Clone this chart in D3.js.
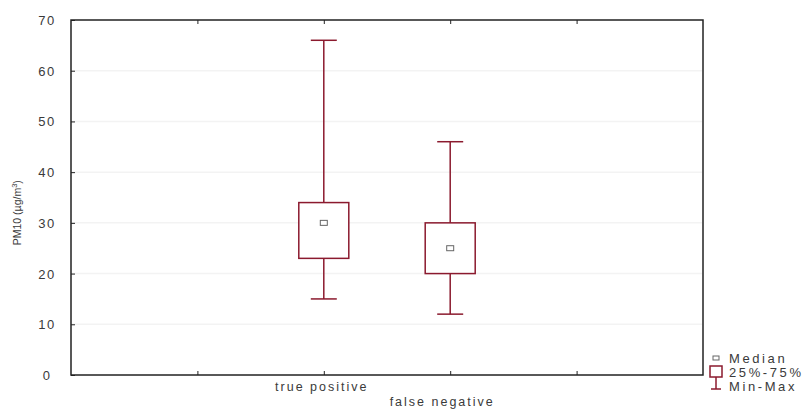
<!DOCTYPE html>
<html>
<head>
<meta charset="utf-8">
<script src="https://cdn.jsdelivr.net/npm/d3@7"></script>
<style>
  body { margin: 0; background: #fff; }
  text { font-family: "Liberation Sans", Arial, sans-serif; fill: #3a3a3a; }
</style>
</head>
<body>
<div id="chart"></div>
<script>
var categories = ["true positive", "false negative"];
var minVals = [15, 12];
var q1Vals = [23, 20];
var medianVals = [30, 25];
var q3Vals = [34, 30];
var maxVals = [66, 46];
var yTicks = [0, 10, 20, 30, 40, 50, 60, 70];
var legendLabels = ["Median", "25%-75%", "Min-Max"];

var W = 810, H = 409;
var margin = {top: 20, right: 107, bottom: 34, left: 71};
var width = W - margin.left - margin.right,
    height = H - margin.top - margin.bottom;
var red = "#8b1a2e";

var svg = d3.select("#chart").append("svg")
    .attr("width", W)
    .attr("height", H);
var g = svg.append("g")
    .attr("transform", "translate(" + margin.left + "," + margin.top + ")");

// padded point scale: two blank slots either side like the original
var xs = d3.scalePoint()
    .domain(["_a"].concat(categories).concat(["_b"]))
    .range([0, width])
    .padding(1);
var ys = d3.scaleLinear()
    .domain([0, 70])
    .range([height, 0]);

// faint grid
g.selectAll(".grid").data(yTicks.slice(1, -1)).enter().append("line")
    .attr("x1", 1).attr("x2", width - 1)
    .attr("y1", function(d) { return ys(d); })
    .attr("y2", function(d) { return ys(d); })
    .attr("stroke", "#f3f3f3").attr("stroke-width", 1.5);

// axes (ticks pointing inward)
var yAxis = g.append("g").call(d3.axisLeft(ys).tickValues(yTicks).tickSize(-4).tickPadding(24));
yAxis.select(".domain").remove();
yAxis.selectAll("text").attr("font-size", 13).attr("letter-spacing", 1.5)
    .attr("text-anchor", "middle").attr("dy", "0.35em");
yAxis.selectAll("line").attr("stroke", "#222");

var xAxis = g.append("g")
    .attr("transform", "translate(0," + height + ")")
    .call(d3.axisBottom(xs).tickSize(-4).tickFormat(""));
xAxis.select(".domain").remove();
xAxis.selectAll("line").attr("stroke", "#222");

var topAxis = g.append("g")
    .call(d3.axisTop(xs).tickSize(-4).tickFormat(""));
topAxis.select(".domain").remove();
topAxis.selectAll("line").attr("stroke", "#222");

g.selectAll(".xlab").data(categories).enter().append("text")
    .attr("x", function(d, i) { return xs(d) - 2 - i * 6; })
    .attr("y", function(d, i) { return height + 16 + i * 15; })
    .attr("text-anchor", "middle")
    .attr("font-size", 12.5)
    .attr("letter-spacing", 2)
    .text(function(d) { return d; });

// frame
g.append("rect")
    .attr("width", width).attr("height", height)
    .attr("fill", "none").attr("stroke", "#222").attr("stroke-width", 1.5);

// boxes
var boxW = 50, capW = 26;
var box = g.selectAll(".box").data(categories).enter().append("g");
box.append("line")
    .attr("x1", function(d) { return xs(d); })
    .attr("x2", function(d) { return xs(d); })
    .attr("y1", function(d, i) { return ys(maxVals[i]); })
    .attr("y2", function(d, i) { return ys(minVals[i]); })
    .attr("stroke", red).attr("stroke-width", 1.5);
box.append("line")
    .attr("x1", function(d) { return xs(d) - capW / 2; })
    .attr("x2", function(d) { return xs(d) + capW / 2; })
    .attr("y1", function(d, i) { return ys(maxVals[i]); })
    .attr("y2", function(d, i) { return ys(maxVals[i]); })
    .attr("stroke", red).attr("stroke-width", 1.5);
box.append("line")
    .attr("x1", function(d) { return xs(d) - capW / 2; })
    .attr("x2", function(d) { return xs(d) + capW / 2; })
    .attr("y1", function(d, i) { return ys(minVals[i]); })
    .attr("y2", function(d, i) { return ys(minVals[i]); })
    .attr("stroke", red).attr("stroke-width", 1.5);
box.append("rect")
    .attr("x", function(d) { return xs(d) - boxW / 2; })
    .attr("y", function(d, i) { return ys(q3Vals[i]); })
    .attr("width", boxW)
    .attr("height", function(d, i) { return ys(q1Vals[i]) - ys(q3Vals[i]); })
    .attr("fill", "#fff").attr("stroke", red).attr("stroke-width", 1.5);
box.append("rect")
    .attr("x", function(d) { return xs(d) - 3.5; })
    .attr("y", function(d, i) { return ys(medianVals[i]) - 2.5; })
    .attr("width", 7).attr("height", 5)
    .attr("fill", "#fff").attr("stroke", "#666").attr("stroke-width", 1);

// y label
svg.append("text")
    .attr("transform", "translate(21," + (margin.top + ys(32)) + ") rotate(-90)")
    .attr("text-anchor", "middle")
    .attr("font-size", 10.5)
    .html("PM10 (µg/m<tspan dy='-4' font-size='7.5'>3</tspan><tspan dy='4'>)</tspan>");

// legend
var lg = svg.append("g").attr("transform", "translate(709,352)");
lg.append("rect").attr("x", 4).attr("y", 4).attr("width", 6).attr("height", 4)
    .attr("fill", "#fff").attr("stroke", "#666");
lg.append("rect").attr("x", 1).attr("y", 14).attr("width", 12).attr("height", 11)
    .attr("fill", "#fff").attr("stroke", red).attr("stroke-width", 1.5);
lg.append("line").attr("x1", 7).attr("x2", 7).attr("y1", 25).attr("y2", 37)
    .attr("stroke", red).attr("stroke-width", 1.5);
lg.append("line").attr("x1", 2).attr("x2", 12).attr("y1", 37).attr("y2", 37)
    .attr("stroke", red).attr("stroke-width", 1.5);
lg.selectAll(".lt").data(legendLabels).enter().append("text")
    .attr("x", 20)
    .attr("y", function(d, i) { return 11 + i * 14; })
    .attr("font-size", 13)
    .attr("letter-spacing", 2.6)
    .text(function(d) { return d; });
</script>
</body>
</html>
